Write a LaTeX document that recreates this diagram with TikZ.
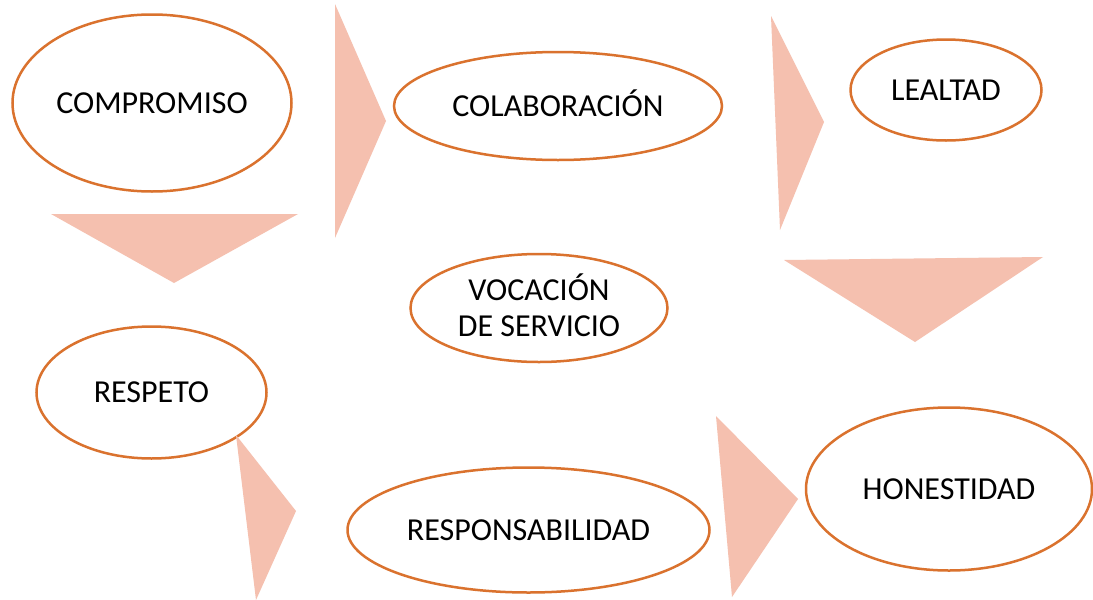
\documentclass[tikz,border=0pt]{standalone}
\usepackage{fontspec}
\setmainfont{Carlito}
\usetikzlibrary{shapes.geometric}
\definecolor{ovalline}{RGB}{218,114,46}
\definecolor{trifill}{RGB}{245,192,175}
\tikzset{
  oval/.style={ellipse, draw=ovalline, line width=2.5pt, fill=white, inner sep=0pt,
    font=\fontsize{32}{36}\selectfont, text=black, text height=20.6pt, text depth=0pt, align=center},
  tri/.style={fill=trifill, draw=none}
}
\begin{document}
\begin{tikzpicture}[x=1pt,y=-1pt]
\fill[white] (0,0) rectangle (1093,600);
\useasboundingbox (0,0) rectangle (1093,600);
% ovals
\node[oval, minimum width=279pt, minimum height=177pt] (comp) at (152,103) {COMPROMISO};
\node[oval, minimum width=328pt, minimum height=108pt] (colab) at (558,106) {COLABORACIÓN};
\node[oval, minimum width=191pt, minimum height=101pt] (leal) at (946,90) {LEALTAD};
\node[oval, minimum width=257pt, minimum height=108pt, text height=56pt, text depth=0pt] (voc) at (539,308) {VOCACIÓN\\DE SERVICIO};
\node[oval, minimum width=230pt, minimum height=132pt] (resp) at (151.5,392.5) {RESPETO};
\node[oval, minimum width=362pt, minimum height=125pt] (respo) at (528.5,530) {RESPONSABILIDAD};
\node[oval, minimum width=286pt, minimum height=163pt] (hon) at (949,489) {HONESTIDAD};
% triangles
\fill[tri] (335,4) -- (386,121) -- (335,238) -- cycle;
\fill[tri] (51,214) -- (298,214) -- (174,283) -- cycle;
\fill[tri] (771,16) -- (824,122) -- (780,230) -- cycle;
\fill[tri] (784,260) -- (1043,257) -- (915,342) -- cycle;
\fill[tri] (236,435) -- (296,511) -- (256,600) -- cycle;
\fill[tri] (716,416) -- (798,499) -- (732,597) -- cycle;
\end{tikzpicture}
\end{document}
